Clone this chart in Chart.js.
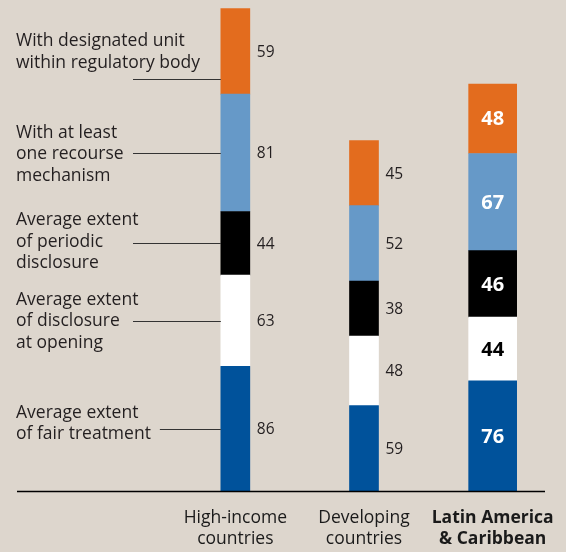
<!DOCTYPE html>
<html>
<head>
<meta charset="utf-8">
<script src="https://cdn.jsdelivr.net/npm/chart.js@4/dist/chart.umd.min.js"></script>
<style>
html,body{margin:0;padding:0;background:#ddd6cd;}
canvas{display:block;}
</style>
</head>
<body>
<canvas id="c" width="566" height="552"></canvas>
<script>
// ---- data ----
const categories = [["High-income","countries"],["Developing","countries"],["Latin America","& Caribbean"]];
const fairTreatment      = [86, 59, 76];
const disclosureOpening  = [63, 48, 44];
const periodicDisclosure = [44, 38, 46];
const recourseMechanism  = [81, 52, 67];
const designatedUnit     = [59, 45, 48];
const seriesLabels = [
  ["Average extent","of fair treatment"],
  ["Average extent","of disclosure","at opening"],
  ["Average extent","of periodic","disclosure"],
  ["With at least","one recourse","mechanism"],
  ["With designated unit","within regulatory body"]
];
const highlightIndex = 2;

// ---- styles ----
const seriesValues = [fairTreatment, disclosureOpening, periodicDisclosure, recourseMechanism, designatedUnit];
const seriesColors = ['#00529b', '#ffffff', '#000000', '#6699c8', '#e36c1e'];
const highlightTextColors = ['#ffffff', '#000000', '#ffffff', '#ffffff', '#ffffff'];
const textOffsets = [-16, -21, -23, -20, -38];
const FONT = '"Open Sans", "Noto Sans", sans-serif';

const datasets = [];
seriesValues.forEach((vals, s) => {
  datasets.push({
    label: seriesLabels[s].join(' '),
    data: vals.map((v, i) => i === highlightIndex ? null : v),
    backgroundColor: seriesColors[s],
    barThickness: 29,
    stack: 'all',
    series: s,
    highlight: false
  });
  datasets.push({
    label: seriesLabels[s].join(' ') + ' (LAC)',
    data: vals.map((v, i) => i === highlightIndex ? v : null),
    backgroundColor: seriesColors[s],
    barThickness: 48,
    stack: 'all',
    series: s,
    highlight: true
  });
});

const annotPlugin = {
  id: 'annot',
  afterDatasetsDraw(chart) {
    const ctx = chart.ctx;
    const y = chart.scales.y;
    ctx.save();
    // baseline
    const by = Math.round(y.getPixelForValue(0)) + 0.5;
    ctx.strokeStyle = '#000';
    ctx.lineWidth = 1.3;
    ctx.beginPath(); ctx.moveTo(17, by); ctx.lineTo(545, by); ctx.stroke();

    // value labels
    ctx.textBaseline = 'middle';
    chart.data.datasets.forEach((ds, di) => {
      const meta = chart.getDatasetMeta(di);
      meta.data.forEach((el, i) => {
        const v = ds.data[i];
        if (v == null) return;
        const cy = (el.y + el.base) / 2;
        if (ds.highlight) {
          ctx.font = 'bold 20px ' + FONT;
          ctx.fillStyle = highlightTextColors[ds.series];
          ctx.textAlign = 'center';
          ctx.fillText(String(v), el.x, cy + 1);
        } else {
          ctx.font = '15.5px ' + FONT;
          ctx.fillStyle = '#231f20';
          ctx.textAlign = 'left';
          ctx.fillText(String(v), el.x + el.width / 2 + 7, cy + 1);
        }
      });
    });

    // series annotations on the left (attached to first bar)
    ctx.font = '17.5px ' + FONT;
    ctx.textAlign = 'left';
    const lineH = 21.5;
    seriesLabels.forEach((lines, s) => {
      const el = chart.getDatasetMeta(2 * s).data[0];
      const isTop = s === seriesLabels.length - 1;
      const leaderY = isTop ? el.base - 15 : (el.y + el.base) / 2;
      const ty0 = leaderY + textOffsets[s];
      ctx.fillStyle = '#231f20';
      let startX = 133;
      lines.forEach((t, k) => {
        const ty = ty0 + k * lineH;
        ctx.fillText(t, 16, ty);
        if (!isTop && Math.abs(ty - leaderY) < 10) {
          startX = Math.max(startX, 16 + ctx.measureText(t).width + 9);
        }
      });
      const ly = Math.round(leaderY) + 0.5;
      ctx.strokeStyle = '#333';
      ctx.lineWidth = 1;
      ctx.beginPath(); ctx.moveTo(startX, ly); ctx.lineTo(el.x - el.width / 2, ly); ctx.stroke();
    });
    ctx.restore();
  }
};

new Chart(document.getElementById('c'), {
  type: 'bar',
  data: { labels: categories, datasets },
  options: {
    responsive: false,
    animation: false,
    layout: { padding: { left: 171, right: 9, top: 0, bottom: 0 } },
    plugins: { legend: { display: false }, tooltip: { enabled: false } },
    scales: {
      x: {
        stacked: true,
        grid: { display: false, drawTicks: false },
        border: { display: false },
        ticks: {
          padding: 17,
          color: '#1a1a1a',
          maxRotation: 0,
          autoSkip: false,
          font: (c) => ({ family: FONT, size: 17.5, weight: c.index === highlightIndex ? 'bold' : 'normal', lineHeight: 1.2 })
        },
        afterFit: (axis) => { axis.height = 61; axis.paddingLeft = 0; axis.paddingRight = 0; }
      },
      y: {
        stacked: true,
        display: false,
        min: 0,
        max: 339
      }
    }
  },
  plugins: [annotPlugin]
});
</script>
</body>
</html>
